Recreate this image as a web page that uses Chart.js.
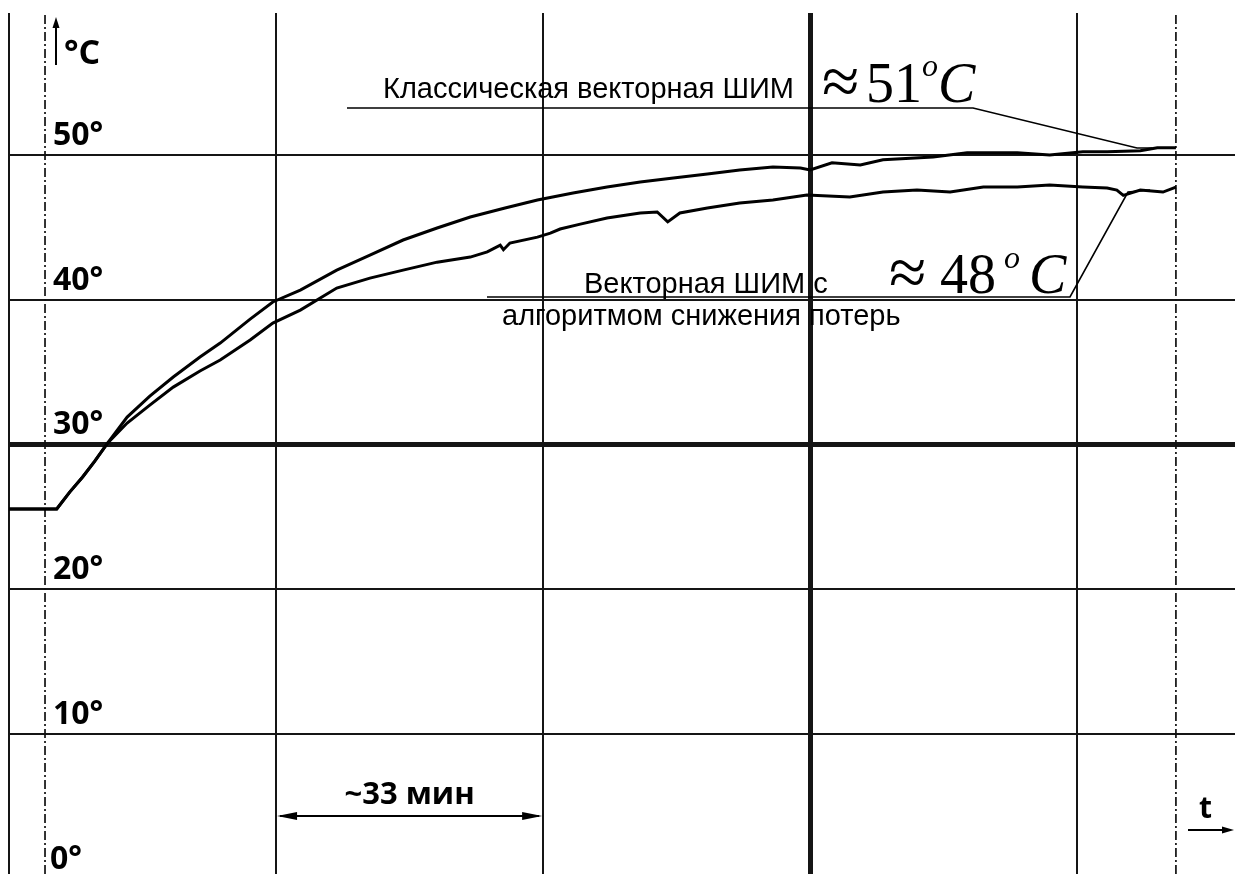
<!DOCTYPE html>
<html>
<head>
<meta charset="utf-8">
<script src="https://cdn.jsdelivr.net/npm/chart.js@4.4.1/dist/chart.umd.min.js"></script>
<style>
  html, body { margin: 0; padding: 0; background: #fff; }
  #wrap { width: 1235px; height: 874px; }
</style>
</head>
<body>
<div id="wrap"><canvas id="c" width="1235" height="874"></canvas></div>
<script>
// ---- data (time in minutes, temperature in °C) ----
const classicTime = [0, 5.9, 7.5, 9.1, 10.6, 12.2, 14.6, 17.4, 20.3, 23.6, 26.1, 29.8, 32.6, 36.0, 40.5, 44.6, 48.7, 52.9, 57.0, 61.3, 65.3, 69.7, 73.9, 78.0, 82.1, 86.3, 90.3, 94.4, 97.8, 99.0, 101.7, 105.2, 108.0, 114.2, 118.4, 124.6, 128.6, 132.7, 135.7, 139.8, 141.9, 144.2];
const classicTemp = [25.54, 25.54, 26.71, 27.75, 28.85, 30.10, 31.89, 33.34, 34.66, 36.04, 37.00, 38.66, 39.84, 40.66, 42.04, 43.08, 44.12, 44.95, 45.71, 46.33, 46.88, 47.37, 47.78, 48.13, 48.41, 48.68, 48.96, 49.17, 49.10, 48.96, 49.45, 49.31, 49.66, 49.86, 50.14, 50.14, 50.00, 50.21, 50.21, 50.28, 50.49, 50.49];

const lossTime = [0, 5.9, 7.5, 9.1, 10.6, 12.2, 14.6, 17.4, 20.3, 23.6, 26.1, 29.8, 32.6, 36.0, 40.5, 44.6, 48.7, 52.9, 57.0, 59.1, 60.7, 61.1, 61.9, 65.3, 66.9, 68.1, 70.6, 73.9, 78.0, 80.1, 81.4, 82.9, 86.3, 90.3, 94.4, 98.6, 103.9, 108.0, 112.2, 116.3, 120.4, 124.6, 128.6, 132.7, 135.7, 136.9, 137.7, 139.8, 142.6, 144.2];
const lossTemp = [25.54, 25.54, 26.71, 27.75, 28.85, 30.10, 31.48, 32.72, 33.96, 35.07, 35.83, 37.21, 38.38, 39.28, 40.80, 41.49, 42.04, 42.59, 42.94, 43.30, 43.77, 43.45, 43.91, 44.32, 44.60, 44.88, 45.22, 45.64, 45.99, 46.06, 45.37, 45.99, 46.33, 46.67, 46.88, 47.23, 47.09, 47.43, 47.57, 47.43, 47.78, 47.78, 47.92, 47.78, 47.71, 47.57, 47.20, 47.57, 47.43, 47.78];

const yTickValues = [10, 20, 30, 40, 50];
const yLabelValues = [0, 10, 20, 30, 40, 50];
const xGridValues = [0, 33, 66, 99, 132];
const markerTimes = [4.45, 144.2];
const spanLabel = '~33 мин';
const spanFrom = 33, spanTo = 66;
const series1Name = 'Классическая векторная ШИМ';
const series2Line1 = 'Векторная ШИМ с';
const series2Line2 = 'алгоритмом снижения потерь';
const series1Value = '51';
const series2Value = '48';

const X_MIN = 0, X_MAX = 151.5, Y_MIN = 0.33, Y_MAX = 59.8;

const toXY = (xs, ys) => xs.map((x, i) => ({ x: x, y: ys[i] }));

const datasets = [
  { label: series1Name, data: toXY(classicTime, classicTemp), borderColor: '#000', borderWidth: 3, pointRadius: 0, tension: 0 },
  { label: series2Line1 + ' ' + series2Line2, data: toXY(lossTime, lossTemp), borderColor: '#000', borderWidth: 3, pointRadius: 0, tension: 0 }
];
markerTimes.forEach(t => datasets.push({
  label: 'marker', data: [{ x: t, y: Y_MIN }, { x: t, y: Y_MAX }],
  borderColor: '#111', borderWidth: 1.7, borderDash: [9, 3, 2, 3], pointRadius: 0
}));

function arrowHead(ctx, x, y, dir, len, half) {
  ctx.beginPath();
  if (dir === 'left') { ctx.moveTo(x, y); ctx.lineTo(x + len, y - half); ctx.lineTo(x + len, y + half); }
  else if (dir === 'right') { ctx.moveTo(x, y); ctx.lineTo(x - len, y - half); ctx.lineTo(x - len, y + half); }
  else if (dir === 'up') { ctx.moveTo(x, y); ctx.lineTo(x - half, y + len); ctx.lineTo(x + half, y + len); }
  ctx.closePath(); ctx.fill();
}

const annot = {
  id: 'annot',
  afterDraw(chart) {
    const { ctx, scales: { x, y } } = chart;
    ctx.save();
    ctx.fillStyle = '#000'; ctx.strokeStyle = '#000';
    ctx.textBaseline = 'alphabetic'; ctx.textAlign = 'left';
    const axX = x.getPixelForValue(markerTimes[0]);

    // degree tick labels
    ctx.font = 'bold 32px "Open Sans"';
    yLabelValues.forEach(v => {
      ctx.fillText(v + '°', axX + (v === 0 ? 5 : 8), y.getPixelForValue(v) - 10);
    });
    // axis unit with arrow
    ctx.font = 'bold 34px "Open Sans"';
    ctx.fillText('°C', axX + 19, 64);
    ctx.lineWidth = 2;
    ctx.beginPath(); ctx.moveTo(axX + 11, 65); ctx.lineTo(axX + 11, 26); ctx.stroke();
    arrowHead(ctx, axX + 11, 17, 'up', 11, 3.5);

    // time span
    const s0 = x.getPixelForValue(spanFrom), s1 = x.getPixelForValue(spanTo);
    ctx.font = 'bold 31px "Open Sans"'; ctx.textAlign = 'center';
    ctx.fillText(spanLabel, (s0 + s1) / 2, 804);
    ctx.lineWidth = 2;
    ctx.beginPath(); ctx.moveTo(s0 + 4, 816); ctx.lineTo(s1 - 4, 816); ctx.stroke();
    arrowHead(ctx, s0 + 1, 816, 'left', 20, 4);
    arrowHead(ctx, s1 - 1, 816, 'right', 20, 4);

    // t axis
    ctx.textAlign = 'left';
    ctx.font = 'bold 30px "Open Sans"';
    ctx.fillText('t', 1199, 818);
    ctx.beginPath(); ctx.moveTo(1188, 830); ctx.lineTo(1224, 830); ctx.stroke();
    arrowHead(ctx, 1234, 830, 'right', 12, 3.5);

    // series annotations
    ctx.font = '100px "Liberation Sans"';
    const fs = Math.round(100 * 414 / ctx.measureText(series1Name).width);
    ctx.font = fs + 'px "Liberation Sans"';
    ctx.fillText(series1Name, 383, 98);
    ctx.fillText(series2Line1, 584, 293);
    ctx.fillText(series2Line2, 502, 325);

    ctx.lineWidth = 1.6;
    ctx.beginPath(); ctx.moveTo(347, 108); ctx.lineTo(973, 108); ctx.lineTo(1137, 148); ctx.lineTo(1152, 148); ctx.stroke();
    ctx.beginPath(); ctx.moveTo(487, 297); ctx.lineTo(1070, 297); ctx.lineTo(1128, 192); ctx.lineTo(1150, 190); ctx.stroke();

    // values
    const approx = '68px "Liberation Serif"', big = '56px "Liberation Serif"', bigI = 'italic 56px "Liberation Serif"', supI = 'italic 32px "Liberation Serif"';
    ctx.font = approx; ctx.fillText('≈', 822, 104);
    ctx.font = big; ctx.fillText(series1Value, 866, 102);
    ctx.font = supI; ctx.fillText('o', 922, 76);
    ctx.font = bigI; ctx.fillText('C', 938, 102);

    ctx.font = approx; ctx.fillText('≈', 889, 295);
    ctx.font = big; ctx.fillText(series2Value, 940, 293);
    ctx.font = supI; ctx.fillText('o', 1004, 268);
    ctx.font = bigI; ctx.fillText('C', 1029, 293);

    ctx.restore();
  }
};

new Chart(document.getElementById('c'), {
  type: 'line',
  data: { datasets: datasets },
  options: {
    responsive: false, animation: false, devicePixelRatio: 1, events: [],
    layout: { padding: { left: 9, top: 13, right: 0, bottom: 0 } },
    plugins: { legend: { display: false }, tooltip: { enabled: false } },
    scales: {
      x: {
        type: 'linear', min: X_MIN, max: X_MAX,
        afterBuildTicks: s => { s.ticks = xGridValues.map(v => ({ value: v })); },
        ticks: { display: false },
        border: { display: false },
        grid: { drawTicks: false, color: '#151515', lineWidth: c => (c.tick && c.tick.value === 99 ? 5 : 2) }
      },
      y: {
        type: 'linear', min: Y_MIN, max: Y_MAX,
        afterBuildTicks: s => { s.ticks = yTickValues.map(v => ({ value: v })); },
        ticks: { display: false },
        border: { display: false },
        grid: { drawTicks: false, color: '#151515', lineWidth: c => (c.tick && c.tick.value === 30 ? 5 : 2) }
      }
    }
  },
  plugins: [annot]
});
</script>
</body>
</html>
